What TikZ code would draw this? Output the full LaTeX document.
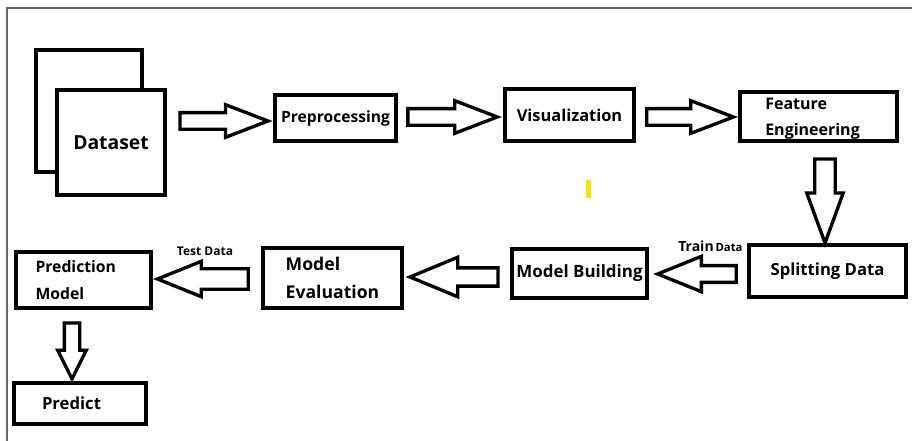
\documentclass[tikz,border=0pt]{standalone}
\usepackage{fontspec}
\setmainfont{Open Sans}
\usetikzlibrary{shapes.arrows}

\begin{document}
\begin{tikzpicture}[x=0.75pt,y=-0.75pt,
  box/.style={draw, line width=2.8pt, fill=white, inner sep=2pt, font=\bfseries},
  fatarrow/.style={single arrow, draw, line width=2.5pt, minimum width=0pt, inner sep=5pt,
    single arrow head extend=6pt, single arrow tip angle=42, single arrow head indent=0pt, anchor=tail},
  small/.style={font=\bfseries\scriptsize, inner sep=0pt}]
\path[use as bounding box] (0,0) rectangle (912,441);

% frame
\draw[gray!80!black, line width=1.5pt] (7,441) -- (7,8) -- (912,8);

% top row
\node[box, minimum width=80pt, minimum height=92pt] (dsback) at (89,111) {};
\node[box, minimum width=81pt, minimum height=79pt, font=\bfseries\fontsize{14.5}{16}\selectfont] (ds) at (111,142.5) {Dataset};
\node[box, minimum width=90.5pt, minimum height=34.5pt, font=\bfseries\fontsize{11.7}{13}\selectfont] (pre) at (335.5,118) {Preprocessing};
\node[box, minimum width=96.5pt, minimum height=39pt, font=\bfseries\fontsize{12.3}{14}\selectfont] (vis) at (569.5,115) {Visualization};
\node[box, minimum width=117.5pt, minimum height=36.5pt] (fe) at (818.5,116.5) {};
\node[align=left, anchor=north west, inner sep=0pt, font=\bfseries\fontsize{12}{19}\selectfont] (fetxt) at (765,98) {Feature\\Engineering};

% bottom row
\node[box, minimum width=117.5pt, minimum height=39pt, font=\bfseries\fontsize{12.5}{14}\selectfont] (sd) at (827.5,271) {Splitting Data};
\node[box, minimum width=101pt, minimum height=36.5pt, font=\bfseries\fontsize{12.7}{14}\selectfont] (mb) at (579.5,273.5) {Model Building};
\node[box, minimum width=104pt, minimum height=45pt, align=left, font=\bfseries\fontsize{13.2}{21}\selectfont] (me) at (332.5,278) {Model\\Evaluation};
\node[box, minimum width=101pt, minimum height=42pt, align=left, text width=72pt, font=\bfseries\fontsize{11.8}{20}\selectfont] (pm) at (83.5,280) {Prediction\\Model};
\node[box, minimum width=99pt, minimum height=31pt, text width=57pt, font=\bfseries\fontsize{12.5}{14}\selectfont] (pd) at (80,403.5) {Predict};

% block arrows
\node[fatarrow, minimum height=66pt] (a1) at ([xshift=8.6pt]ds.east |- 0,121) {};
\node[fatarrow, minimum height=67pt] (a2) at ([xshift=6.4pt]pre.east |- 0,117) {};
\node[fatarrow, minimum height=65pt] (a3) at ([xshift=7pt]vis.east |- 0,117) {};
\node[fatarrow, rotate=-90, minimum height=63pt, inner sep=6.4pt, single arrow tip angle=40] (a4) at ([yshift=-11pt]fe.south -| 825,0) {};
\node[fatarrow, rotate=180, minimum height=59pt, single arrow head extend=7pt, single arrow tip angle=44] (a5) at ([xshift=-7pt]sd.west |- 0,274) {};
\node[fatarrow, rotate=180, minimum height=66pt, inner sep=5.6pt, single arrow head extend=8pt, single arrow tip angle=45] (a6) at ([xshift=-8pt]mb.west |- 0,277) {};
\node[fatarrow, rotate=180, minimum height=68pt, inner sep=6.4pt, single arrow head extend=5.6pt, single arrow tip angle=44] (a7) at ([xshift=-8.6pt]me.west |- 0,279) {};
\node[fatarrow, rotate=-90, minimum height=42pt, inner sep=4.5pt, single arrow head extend=5pt, single arrow tip angle=53] (a8) at ([yshift=-8.6pt]pm.south -| 72,0) {};

% arrow labels
\node[small, font=\bfseries\fontsize{10.5}{12}\selectfont, anchor=base west] (trn) at (678,252) {Train};
\node[small, font=\bfseries\fontsize{8.5}{10}\selectfont, anchor=base west] (trd) at ([xshift=1pt]trn.base east) {Data};
\node[small, font=\bfseries\fontsize{9}{10}\selectfont, anchor=base] (tst) at (205,256) {Test Data};

% stray mark
\fill[yellow!85!orange] (586,180) rectangle (591,198);
\end{tikzpicture}
\end{document}
